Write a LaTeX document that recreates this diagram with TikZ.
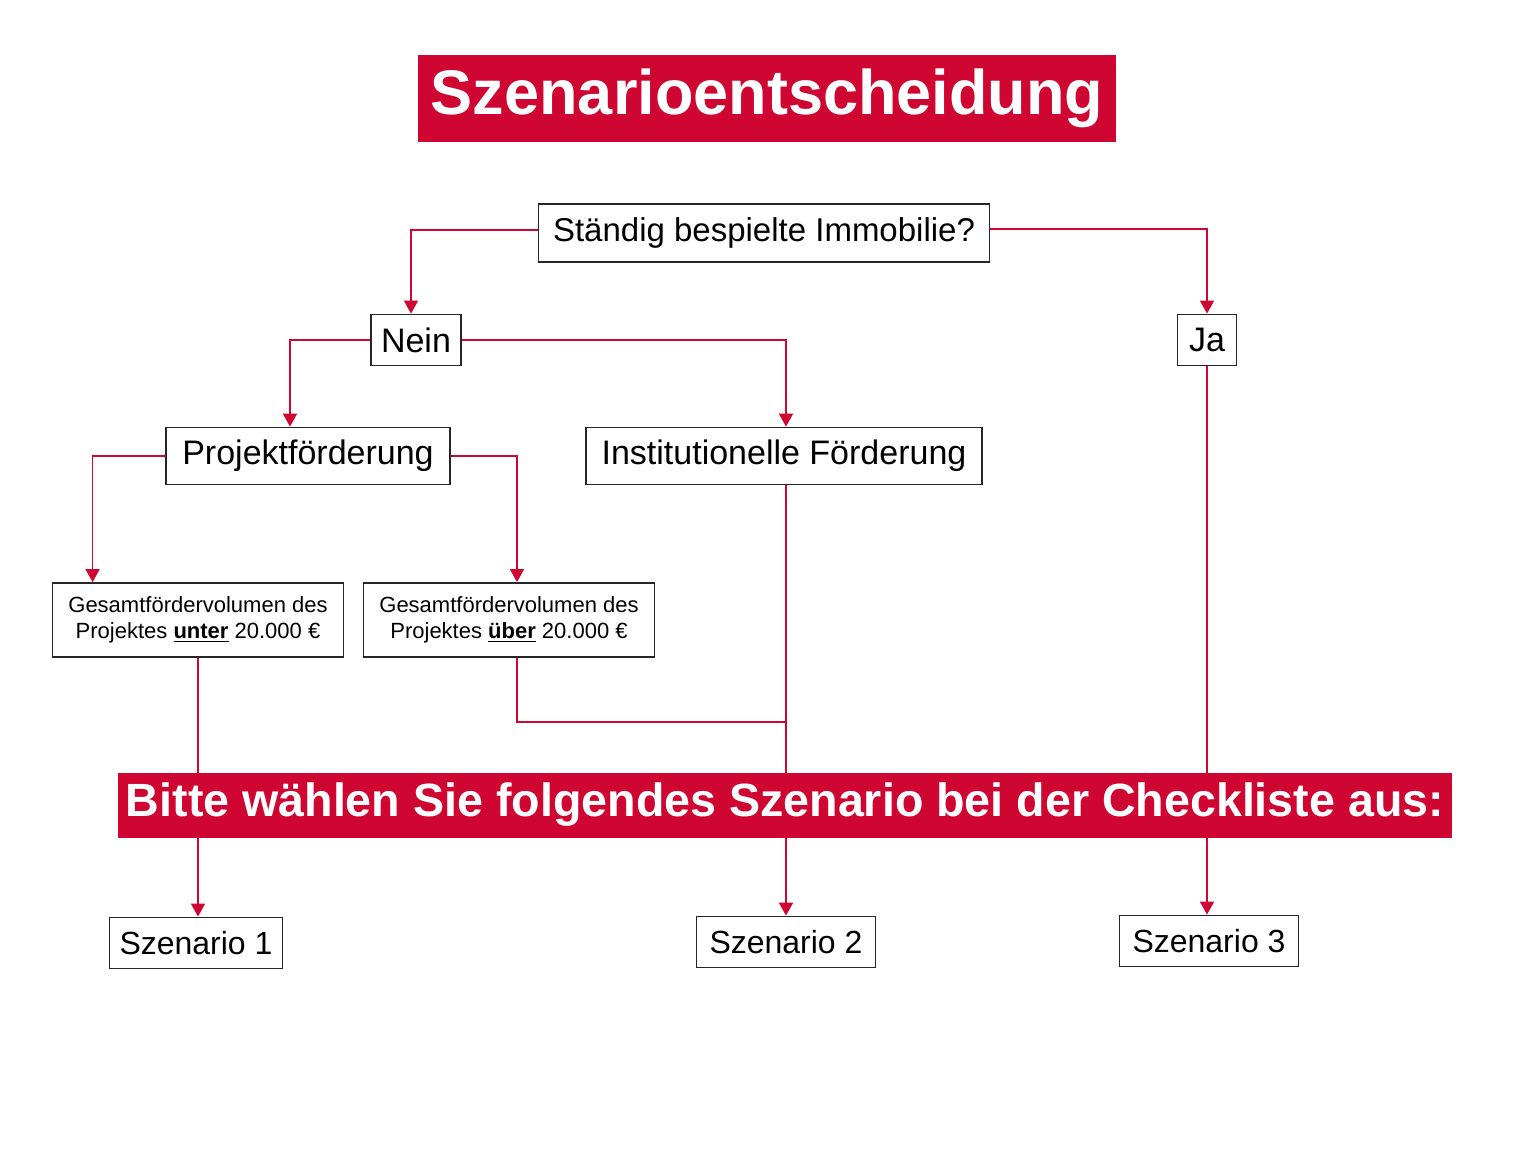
\documentclass[tikz,border=0pt]{standalone}
\usepackage{fontspec}
\setmainfont{Liberation Sans}
\usepackage{xcolor}
\usetikzlibrary{arrows.meta}
\definecolor{szred}{RGB}{207,6,50}

\tikzset{
  box/.style={draw=black!85, line width=0.9pt, inner sep=0pt, text=black,
    font=\fontsize{17}{20}\selectfont},
  smallbox/.style={box, align=center, font=\fontsize{11}{13}\selectfont},
  redbar/.style={fill=szred, inner sep=0pt, text=white},
  link/.style={draw=szred, line width=0.8pt},
  arr/.style={link, -{Triangle[width=7pt,length=6.5pt]}}
}

\begin{document}
\begin{tikzpicture}[x=0.5pt, y=-0.5pt]
\useasboundingbox[fill=white] (0,0) rectangle (1536,1152);
% Title
\node[redbar, minimum width=349pt, minimum height=43.5pt,
  font=\fontsize{31.5}{36}\selectfont\bfseries] (title) at (767,98) {Szenarioentscheidung};
% Boxes
\node[box, minimum width=225.5pt, minimum height=29pt,
  font=\fontsize{16.5}{20}\selectfont] (frage) at (764,233) {Ständig bespielte Immobilie?};
\node[box, minimum width=45pt, minimum height=25.5pt] (nein) at (416,340) {Nein};
\node[box, minimum width=29.5pt, minimum height=25.5pt] (ja) at (1207,340) {Ja};
\node[box, minimum width=142pt, minimum height=28.5pt] (projekt) at (308,456) {Projektförderung};
\node[box, minimum width=198pt, minimum height=28.5pt] (inst) at (784,456) {Institutionelle Förderung};
\node[smallbox, minimum width=145.5pt, minimum height=37pt] (unter) at (198,620)
  {Gesamtfördervolumen des\\Projektes \underline{\textbf{unter}} 20.000 €};
\node[smallbox, minimum width=145.5pt, minimum height=37pt] (ueber) at (509,620)
  {Gesamtfördervolumen des\\Projektes \underline{\textbf{über}} 20.000 €};
% Scenarios
\tikzset{szbox/.style={box, minimum height=25.5pt, font=\fontsize{16}{20}\selectfont}}
\node[szbox, minimum width=86.5pt] (sz1) at (196,943) {Szenario 1};
\node[szbox, minimum width=89.5pt] (sz2) at (786,942) {Szenario 2};
\node[szbox, minimum width=89.5pt] (sz3) at (1209,941) {Szenario 3};
% Connectors
\draw[arr] ([yshift=1.5pt]frage.west) -| ([xshift=-2.5pt]nein.north);
\draw[arr] ([yshift=2pt]frage.east) -| (ja.north);
\draw[arr] (nein.west) -| ([xshift=-9pt]projekt.north);
\draw[arr] (nein.east) -| ([xshift=1pt]inst.north);
\draw[arr] (projekt.west) -| ([xshift=20.5pt]unter.north west);
\draw[arr] (projekt.east) -| ([xshift=4pt]ueber.north);
\draw[arr] (unter.south) -- (unter.south |- sz1.north);
\draw[arr] ([xshift=1pt]inst.south) -- (sz2.north);
\draw[arr] (ja.south) -- (ja.south |- sz3.north);
\coordinate (join) at (786,722);
\draw[link] ([xshift=4pt]ueber.south) |- (join);
% Banner
\node[redbar, minimum width=667pt, minimum height=32.5pt,
  font=\fontsize{23.3}{26}\selectfont\bfseries] (banner) at (785,805)
  {Bitte wählen Sie folgendes Szenario bei der Checkliste aus:};
\end{tikzpicture}
\end{document}
